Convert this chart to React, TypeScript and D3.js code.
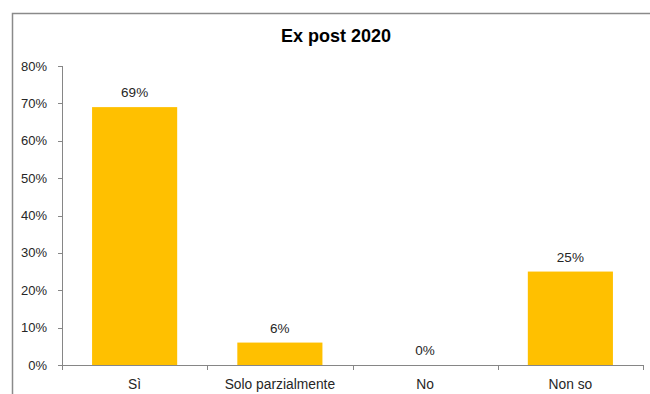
import React from "react";
import * as d3 from "d3";

const categories = ["Sì", "Solo parzialmente", "No", "Non so"];
const values = [0.69, 0.06, 0.0, 0.25];
const yTicks = [0, 0.1, 0.2, 0.3, 0.4, 0.5, 0.6, 0.7, 0.8];
const title = "Ex post 2020";

export default function App() {
  const W = 650, H = 394;
  const left = 62, right = 643, top = 66, bottom = 365;
  const x = d3.scaleBand<string>().domain(categories).range([left, right]).paddingInner(0.414).paddingOuter(0.207);
  const xOuter = d3.scaleBand<string>().domain(categories).range([left, right]);
  const y = d3.scaleLinear().domain([0, 0.8]).range([bottom, top]);
  const fmt = d3.format(".0%");
  const font = "'Liberation Sans', Arial, sans-serif";
  const axisColor = "#868686";
  return (
    <svg width={W} height={H} style={{ position: "absolute", left: 0, top: 0, background: "#fff" }} fontFamily={font}>
      <rect x={12.5} y={13.5} width={W} height={H} fill="#fff" stroke="#8a8a8a" strokeWidth={1.5} />
      <text x={336} y={42} textAnchor="middle" fontSize={18} fontWeight="bold" fill="#000">{title}</text>
      {categories.map((c, i) => (
        <rect key={c} x={x(c)} y={y(values[i])} width={x.bandwidth()} height={bottom - y(values[i])} fill="#FFC000" />
      ))}
      {categories.map((c, i) => (
        <text key={"l" + c} x={(x(c) as number) + x.bandwidth() / 2} y={y(values[i]) - 10} textAnchor="middle" fontSize={13.5} fill="#262626">{fmt(values[i])}</text>
      ))}
      <line x1={left + 0.5} x2={left + 0.5} y1={top} y2={bottom} stroke={axisColor} />
      {yTicks.map((t) => (
        <g key={t}>
          <line x1={left - 4} x2={left} y1={Math.round(y(t)) + 0.5} y2={Math.round(y(t)) + 0.5} stroke={axisColor} />
          <text x={47} y={y(t) + 4.5} textAnchor="end" fontSize={13} fill="#262626">{fmt(t)}</text>
        </g>
      ))}
      <line x1={left} x2={right} y1={bottom + 0.5} y2={bottom + 0.5} stroke={axisColor} />
      {categories.map((c) => (
        <line key={"t" + c} x1={Math.round(xOuter(c) as number) + 0.5} x2={Math.round(xOuter(c) as number) + 0.5} y1={bottom} y2={bottom + 5} stroke={axisColor} />
      ))}
      <line x1={right + 0.5} x2={right + 0.5} y1={bottom} y2={bottom + 5} stroke={axisColor} />
      {categories.map((c) => (
        <text key={"x" + c} x={(x(c) as number) + x.bandwidth() / 2} y={389} textAnchor="middle" fontSize={13.8} fill="#262626">{c}</text>
      ))}
    </svg>
  );
}
